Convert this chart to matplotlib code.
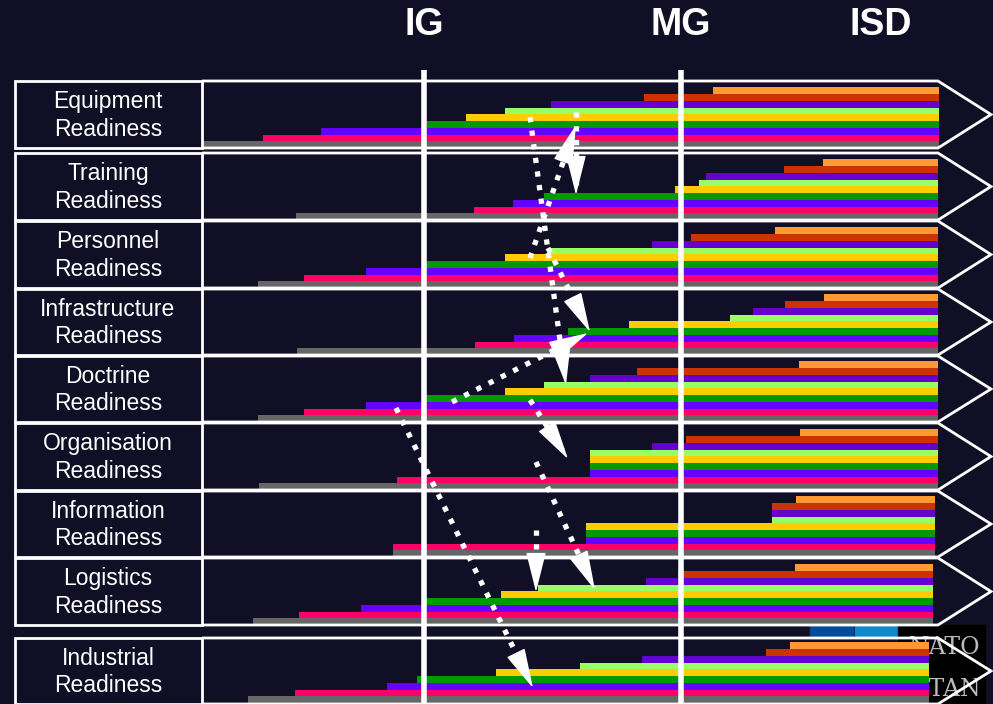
import matplotlib.pyplot as plt
from matplotlib.patches import Polygon, Rectangle

# rows of the readiness chart
rows = ['Equipment\nReadiness', 'Training\nReadiness', 'Personnel\nReadiness',
        'Infrastructure\nReadiness', 'Doctrine\nReadiness', 'Organisation\nReadiness',
        'Information\nReadiness', 'Logistics\nReadiness', 'Industrial\nReadiness']

# start of each layer per row (timeline units), bottom layer first
gray = [203, 296, 258, 297, 258, 259, 393, 253, 248]
pink = [263, 474, 304, 475, 304, 397, 393, 299, 295]
purple = [321, 513, 366, 514, 366, 590, 586, 361, 387]
green = [427, 544, 426, 568, 426, 590, 586, 426, 417]
yellow = [466, 675, 505, 629, 505, 590, 586, 501, 496]
lightgreen = [505, 699, 549, 730, 544, 590, 772, 538, 580]
violet = [551, 706, 652, 753, 590, 652, 772, 646, 642]
darkorange = [644, 784, 691, 785, 637, 686, 772, 678, 766]
orange = [713, 823, 775, 824, 799, 800, 796, 795, 790]
ends = [939, 938, 938, 938, 938, 938, 935, 933, 929]

layers = [gray, pink, purple, green, yellow, lightgreen, violet, darkorange, orange]
colors = ['#666666', '#FF0066', '#6600FF', '#009900', '#FFCC00',
          '#99FF66', '#6600CC', '#CC3300', '#FF9933']

# milestones
milestones = ['IG', 'MG', 'ISD']
milestone_x = [424, 681, 881]

# row frame
row_top = [81, 153, 221, 289, 356, 423, 491, 558, 638]
row_bottom = [148, 220, 288, 355, 422, 490, 557, 625, 704]

# dotted transition arrows (start, tip)
arrows = [((530, 117), (566, 385)), ((530, 258), (576, 125)), ((576, 112), (576, 195)),
          ((548, 248), (590, 332)), ((452, 402), (588, 333)), ((530, 400), (568, 459)),
          ((396, 408), (533, 688)), ((536, 462), (595, 590)), ((536, 530), (536, 592))]

bg = '#110F25'
W, H = 993, 704
fig = plt.figure(figsize=(W / 100, H / 100), dpi=100, facecolor=bg)
ax = fig.add_axes([0, 0, 1, 1])
ax.set_facecolor(bg)
ax.set_xlim(0, W)
ax.set_ylim(H, 0)
ax.axis('off')

# NATO logo behind the last row
ax.add_patch(Rectangle((810, 625), 43, 13, color='#004C99', zorder=1))
ax.add_patch(Rectangle((855, 625), 43, 13, color='#1188CC', zorder=1))
ax.add_patch(Rectangle((898, 625), 87, 79, color='black', zorder=1))
ax.text(945, 648, 'NATO', color='#BBBBBB', fontsize=17, family='DejaVu Serif',
        ha='center', va='center', zorder=1)
ax.text(945, 690, 'OTAN', color='#BBBBBB', fontsize=17, family='DejaVu Serif',
        ha='center', va='center', zorder=1)

bh = 6.75
for i, name in enumerate(rows):
    bot = row_bottom[i] if i < 8 else 703
    for k, (starts, c) in enumerate(zip(layers, colors)):
        ax.barh(bot - (k + 0.5) * bh, ends[i] - starts[i], left=starts[i],
                height=bh, color=c, linewidth=0, zorder=3)
    top = row_top[i]
    mid = (top + row_bottom[i]) / 2
    ax.add_patch(Polygon([(202, top), (938, top), (991, mid), (938, row_bottom[i]),
                          (202, row_bottom[i])], closed=False, fill=False,
                         edgecolor='white', lw=2, zorder=4))
    ax.add_patch(Rectangle((15, top), 187, row_bottom[i] - top, fill=False,
                           edgecolor='white', lw=2, zorder=4))
    ax.text(108, mid + 1, name, color='white', fontsize=16.5, family='Liberation Sans',
            ha='center', va='center', linespacing=1.25, zorder=5)

for name, x in zip(milestones, milestone_x):
    ax.text(x, 25, name, color='white', fontsize=27, fontweight='bold',
            family=['Liberation Sans Narrow', 'Liberation Sans'],
            ha='center', va='center', zorder=5)
for x in milestone_x[:2]:
    ax.plot([x, x], [70, H], color='white', lw=4, zorder=6, solid_capstyle='butt')

for (x0, y0), (x1, y1) in arrows:
    fx = x0 + (x1 - x0) * 0.88
    fy = y0 + (y1 - y0) * 0.88
    ax.plot([x0, fx], [y0, fy], color='white', lw=3.8, linestyle=(0, (1, 1.6)),
            zorder=7)
    ax.annotate('', xy=(x1, y1), xytext=(fx, fy),
                arrowprops=dict(arrowstyle='-|>,head_length=1.6,head_width=0.4',
                                color='white', lw=1, shrinkA=0, shrinkB=0,
                                mutation_scale=16), zorder=7)

fig.savefig('out.png', dpi=100, facecolor=bg)
